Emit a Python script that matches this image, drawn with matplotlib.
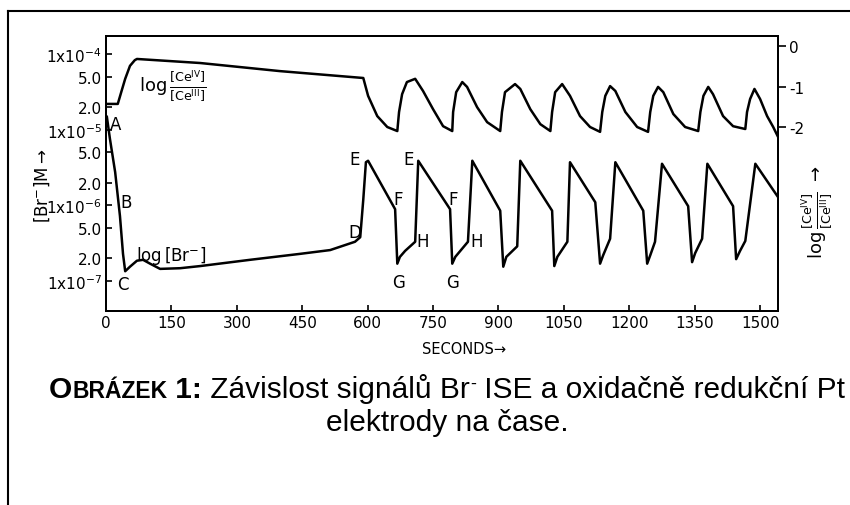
import matplotlib
matplotlib.use("Agg")
import matplotlib.pyplot as plt
from matplotlib.lines import Line2D

# --- data ---
# log([Ce IV]/[Ce III]) trace, right axis
ce_t = [0, 27, 36, 44, 55, 66, 71, 216, 399, 590, 601, 622, 645, 668,
        672, 679, 690, 709, 727, 750, 773, 794,
        796, 803, 817, 828, 851, 874, 904,
        908, 915, 938, 950, 973, 996, 1019,
        1023, 1030, 1046, 1064, 1087, 1110, 1133,
        1138, 1145, 1156, 1168, 1191, 1218, 1243,
        1248, 1255, 1266, 1278, 1301, 1328, 1358,
        1363, 1370, 1381, 1392, 1415, 1438, 1466,
        1470, 1477, 1487, 1500, 1516, 1530, 1540]
ce_log = [-1.43, -1.43, -1.10, -0.81, -0.49, -0.35, -0.32, -0.42, -0.62, -0.79, -1.23, -1.73, -2.00, -2.10,
          -1.63, -1.19, -0.89, -0.81, -1.11, -1.56, -1.98, -2.10,
          -1.63, -1.14, -0.89, -1.01, -1.51, -1.88, -2.10,
          -1.63, -1.14, -0.94, -1.06, -1.56, -1.93, -2.10,
          -1.63, -1.14, -0.94, -1.23, -1.73, -2.00, -2.12,
          -1.63, -1.23, -0.99, -1.11, -1.63, -2.00, -2.12,
          -1.63, -1.23, -1.01, -1.14, -1.68, -2.00, -2.10,
          -1.63, -1.23, -1.01, -1.19, -1.73, -1.98, -2.05,
          -1.63, -1.31, -1.06, -1.31, -1.73, -2.00, -2.22]

# [Br-] trace in mol/L, left axis
br_t = [2, 9, 21, 32, 39, 44, 55, 71, 85, 101, 124, 170, 216, 330, 445, 514, 571, 583, 590, 596, 601,
        663, 668, 674, 686, 709, 716,
        789, 794, 801, 830, 840,
        904, 911, 918, 943, 950,
        1023, 1028, 1035, 1058, 1064,
        1122, 1133, 1140, 1156, 1168,
        1232, 1241, 1248, 1259, 1275,
        1335, 1344, 1351, 1367, 1379,
        1438, 1445, 1454, 1466, 1489, 1541]
br_M = [1.48e-5, 7.59e-6, 2.75e-6, 7.24e-7, 2.29e-7, 1.35e-7, 1.55e-7, 1.86e-7, 1.91e-7, 1.70e-7, 1.45e-7,
        1.48e-7, 1.58e-7, 1.91e-7, 2.29e-7, 2.57e-7, 3.31e-7, 3.80e-7, 1.20e-6, 3.72e-6, 3.89e-6,
        8.91e-7, 1.70e-7, 2.09e-7, 2.51e-7, 3.31e-7, 3.89e-6,
        8.91e-7, 1.70e-7, 2.09e-7, 3.31e-7, 3.89e-6,
        8.51e-7, 1.55e-7, 2.09e-7, 2.88e-7, 3.89e-6,
        8.51e-7, 1.58e-7, 2.09e-7, 3.31e-7, 3.72e-6,
        1.10e-6, 1.70e-7, 2.19e-7, 3.63e-7, 3.72e-6,
        8.51e-7, 1.70e-7, 2.19e-7, 3.31e-7, 3.55e-6,
        9.77e-7, 1.78e-7, 2.34e-7, 3.63e-7, 3.55e-6,
        9.77e-7, 1.95e-7, 2.51e-7, 3.39e-7, 3.55e-6, 1.29e-6]

x_ticks = [0, 150, 300, 450, 600, 750, 900, 1050, 1200, 1350, 1500]
br_ticks = [1e-4, 5e-5, 2e-5, 1e-5, 5e-6, 2e-6, 1e-6, 5e-7, 2e-7, 1e-7]
br_ticklabels = [r'1x10$^{-4}$', '5.0', '2.0', r'1x10$^{-5}$', '5.0', '2.0',
                 r'1x10$^{-6}$', '5.0', '2.0', r'1x10$^{-7}$']
ce_ticks = [0, -1, -2]
ce_ticklabels = ['0', '-1', '-2']

# letters marking the stages (time s, [Br-] M)
stage_labels = [('A', 21, 1.2e-5), ('B', 46, 1.1e-6), ('C', 39, 9.1e-8), ('D', 571, 4.5e-7),
                ('E', 571, 4.1e-6), ('E', 693, 4.1e-6), ('F', 670, 1.2e-6), ('F', 796, 1.2e-6),
                ('H', 727, 3.4e-7), ('H', 851, 3.4e-7), ('G', 670, 9.8e-8), ('G', 794, 9.8e-8)]

W, H = 850, 506
fig = plt.figure(figsize=(W / 100, H / 100), dpi=100)
fig.patch.set_facecolor('white')

# page frame (top and left edges only)
fig.add_artist(Line2D([8 / W, 1], [1 - 12 / H, 1 - 12 / H], color='black', lw=1.5))
fig.add_artist(Line2D([8 / W, 8 / W], [1 - 12 / H, 0], color='black', lw=1.5))

ax = fig.add_axes([106 / W, 1 - 312 / H, (778 - 106) / W, (312 - 37) / H])
ax.plot(br_t, br_M, color='black', lw=1.8, solid_joinstyle='round')
ax.set_yscale('log')
ax.set_ylim(10 ** -7.395, 10 ** -3.762)
ax.set_xlim(0, 1541)
ax.set_xticks(x_ticks)
ax.set_xticklabels([str(v) for v in x_ticks], fontsize=11)
ax.set_yticks(br_ticks)
ax.set_yticklabels(br_ticklabels, fontsize=11)
ax.minorticks_off()
ax.tick_params(axis='both', direction='in', length=4, width=1.2, pad=3)
for s in ax.spines.values():
    s.set_linewidth(1.4)

ax2 = ax.twinx()
ax2.plot(ce_t, ce_log, color='black', lw=1.8, solid_joinstyle='round')
ax2.set_ylim(-6.543, 0.247)
ax2.set_yticks(ce_ticks)
ax2.set_yticklabels(ce_ticklabels, fontsize=11)
ax2.tick_params(axis='y', direction='out', length=6, width=1.2, pad=2)
for s in ax2.spines.values():
    s.set_linewidth(1.4)

for letter, tx, ty in stage_labels:
    ax.text(tx, ty, letter, fontsize=12, ha='center', va='center')

ax.text(0.1, 0.82, r'log$\,\frac{[\mathrm{Ce}^{\mathrm{IV}}]}{[\mathrm{Ce}^{\mathrm{III}}]}$',
        transform=ax.transAxes, fontsize=13, ha='center', va='center')
ax.text(150, 2.2e-7, r'log$\,$[Br$^{-}$]', fontsize=12, ha='center', va='center')

fig.text(42 / W, 1 - 186 / H, r'[Br$^{-}$]M$\rightarrow$', rotation=90, fontsize=12,
         ha='center', va='center')
fig.text(817 / W, 1 - 212 / H,
         r'log$\,\frac{[\mathrm{Ce}^{\mathrm{IV}}]}{[\mathrm{Ce}^{\mathrm{III}}]}$ $\rightarrow$',
         rotation=90, fontsize=13, ha='center', va='center')
fig.text(464 / W, 1 - 349 / H, 'SECONDS→', fontsize=10.5, ha='center', va='center')

# caption, built piece by piece for the small caps
cap_font = ['Liberation Sans Narrow', 'Liberation Sans', 'DejaVu Sans']
pieces = [('O', 21.5, 'bold', 0), ('BRÁZEK', 16.5, 'bold', 0), (' 1:', 21.5, 'bold', 0),
          (' Závislost signálů Br', 21.5, 'normal', 0), ('-', 13, 'normal', 9),
          (' ISE a oxidačně redukční Pt', 21.5, 'normal', 0)]
base1 = 1 - 398 / H
renderer = fig.canvas.get_renderer()
texts = []
x = 0
for s, size, weight, dy in pieces:
    t = fig.text(x, base1 + dy / H, s, fontsize=size, fontweight=weight,
                 family=cap_font, va='baseline', ha='left')
    w = t.get_window_extent(renderer).width / W
    texts.append((t, x))
    x += w
start = 447 / W - x / 2
for t, x0 in texts:
    t.set_x(start + x0)
fig.text(447 / W, 1 - 431 / H, 'elektrody na čase.', fontsize=21.5, family=cap_font,
         va='baseline', ha='center')

fig.savefig('out.png', dpi=100)
